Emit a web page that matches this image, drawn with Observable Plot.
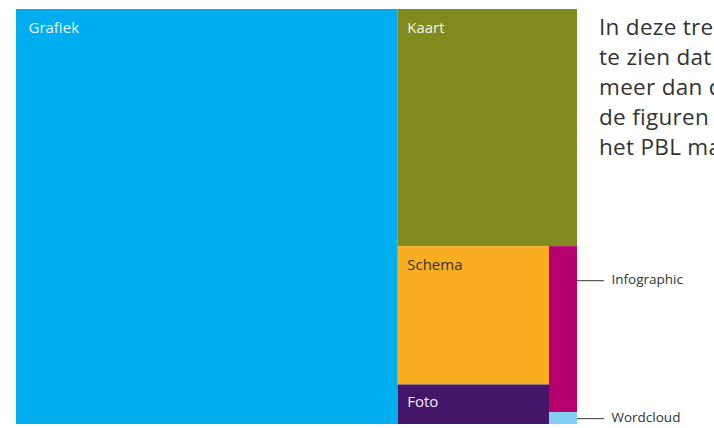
<!DOCTYPE html>
<html>
<head>
<meta charset="utf-8">
<script src="https://cdn.jsdelivr.net/npm/d3@7"></script>
<script src="https://cdn.jsdelivr.net/npm/@observablehq/plot@0.6"></script>
<style>
  html, body { margin: 0; padding: 0; background: #fff; overflow: hidden; }
  #wrap { position: relative; width: 714px; height: 428px; overflow: hidden; }
  #para { position: absolute; left: 599px; top: 12px; white-space: nowrap;
          font-family: "Open Sans", sans-serif; font-size: 22.5px; letter-spacing: 0.3px;
          line-height: 30px; color: #333; }
  svg { display: block; }
</style>
</head>
<body>
<div id="wrap">
  <div id="chart"></div>
  <div id="para">In deze treemap is goed<br>te zien dat grafieken<br>meer dan de helft van<br>de figuren vormen die<br>het PBL maakt.</div>
</div>
<script>
// Data
const categories = ["Grafiek", "Kaart", "Schema", "Foto", "Infographic", "Wordcloud"];
const values = [477, 128, 63, 18, 14, 1];
// nesting of the categories (indexes) used by the slice-and-dice layout
const nesting = [0, [1, [[2, 3], [4, 5]]]];
const colors = ["#00aeef", "#808a1e", "#f9ae21", "#43166a", "#b5006e", "#80cff3"];
const labelColors = ["#e6f6fd", "#f4f5e6", "#3b3320", "#f2eef7", "#333", "#333"];
const calloutNames = ["Infographic", "Wordcloud"];

const W = 561, H = 415;

function build(n) {
  if (Array.isArray(n)) return {children: n.map(build)};
  return {name: categories[n], value: values[n], idx: n};
}
const root = d3.hierarchy(build(nesting)).sum(d => d.value || 0);
d3.treemap().tile(d3.treemapSliceDice).size([W, H]).padding(0).round(false)(root);
const leaves = root.leaves().map(l => ({
  name: l.data.name, idx: l.data.idx, x0: l.x0, x1: l.x1, y0: l.y0, y1: l.y1
}));
const inside = leaves.filter(d => !calloutNames.includes(d.name));
const callouts = leaves.filter(d => calloutNames.includes(d.name));
const calloutY = d => d.name === "Infographic" ? d.y0 + 34 : (d.y0 + d.y1) / 2;

const chart = Plot.plot({
  width: 714,
  height: 428,
  marginLeft: 16, marginRight: 137, marginTop: 9, marginBottom: 4,
  x: {domain: [0, W], axis: null},
  y: {domain: [0, H], range: [9, 424], axis: null},
  color: {domain: categories, range: colors},
  style: {fontFamily: "'Open Sans', sans-serif", background: "transparent"},
  marks: [
    Plot.rect(leaves, {x1: "x0", x2: "x1", y1: "y0", y2: "y1", fill: "name"}),
    Plot.text(inside, {
      x: "x0", y: "y0", text: "name", textAnchor: "start", lineAnchor: "middle",
      fontSize: 15,
      fill: d => labelColors[d.idx]
    }),
    Plot.ruleY(callouts, {y: calloutY, x1: "x1", x2: d => d.x1 + 27, stroke: "#555", strokeWidth: 1.2}),
    Plot.text(callouts, {
      x: d => d.x1 + 34, y: calloutY, dy: -1, text: "name", textAnchor: "start",
      fontSize: 13.5, fill: "#333"
    })
  ]
});
// label offsets inside tiles
chart.querySelectorAll("g[aria-label='text']")[0]?.querySelectorAll("text").forEach((t, i) => {
  const d = inside[i];
  t.setAttribute("dx", d.name === "Grafiek" ? 12 : 9);
  t.setAttribute("dy", d.name === "Foto" ? 17 : 19);
});
document.getElementById("chart").appendChild(chart);
</script>
</body>
</html>
